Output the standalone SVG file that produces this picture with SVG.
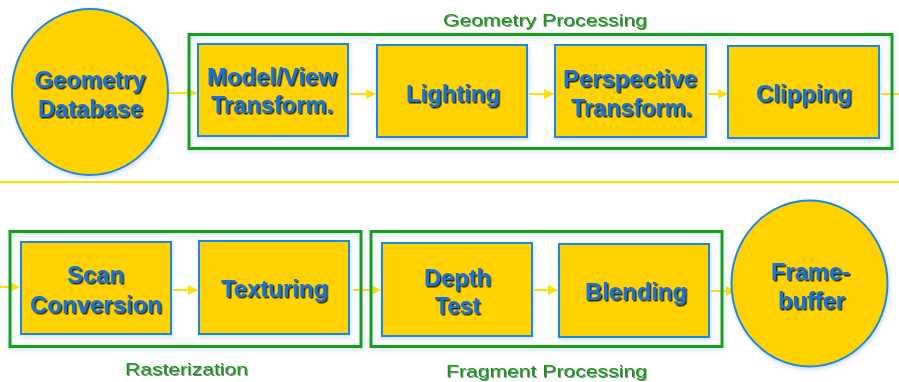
<svg xmlns="http://www.w3.org/2000/svg" width="899" height="382" viewBox="0 0 899 382">
<defs>
<style>
.node{fill:#FFD200;stroke:#1E88E5;stroke-width:2}
.grp{fill:none;stroke:#16A016;stroke-width:3}
.t{font-family:"Liberation Sans",Arial,sans-serif;font-weight:bold;font-size:23px;fill:#1672DE;text-anchor:middle}
.g{font-family:"Liberation Sans",Arial,sans-serif;font-size:17px;fill:#17961A;text-anchor:middle}
.c{stroke:#FFE000;stroke-width:2;fill:none}
</style>
<filter id="ts" x="-10%" y="-30%" width="120%" height="160%">
<feDropShadow dx="1.5" dy="1.5" stdDeviation="0.5" flood-color="#000" flood-opacity="0.8"/>
</filter>
<filter id="gs" x="-10%" y="-30%" width="120%" height="160%">
<feDropShadow dx="1" dy="1" stdDeviation="0.5" flood-color="#000" flood-opacity="0.5"/>
</filter>
<filter id="bs" x="-10%" y="-10%" width="120%" height="120%">
<feDropShadow dx="1" dy="2" stdDeviation="2" flood-color="#8FB0E0" flood-opacity="0.45"/>
</filter>
<marker id="ah" viewBox="0 0 10 10" refX="9" refY="5" markerWidth="5" markerHeight="5" orient="auto" markerUnits="strokeWidth">
<path d="M0,0 L10,5 L0,10 z" fill="#FFE000"/>
</marker>
</defs>
<rect width="899" height="382" fill="#fff"/>

<g id="connectors">
<line class="c" x1="168" y1="93" x2="196" y2="93" marker-end="url(#ah)"/>
<line class="c" x1="350" y1="94" x2="375" y2="94" marker-end="url(#ah)"/>
<line class="c" x1="529" y1="94" x2="553" y2="94" marker-end="url(#ah)"/>
<line class="c" x1="708" y1="94" x2="727" y2="94" marker-end="url(#ah)"/>
<line class="c" x1="881" y1="94" x2="899" y2="94"/>
<line class="c" x1="0" y1="182" x2="899" y2="182"/>
<line class="c" x1="0" y1="287" x2="19" y2="287" marker-end="url(#ah)"/>
<line class="c" x1="173" y1="290" x2="197" y2="290" marker-end="url(#ah)"/>
<line class="c" x1="353" y1="290" x2="380" y2="290" marker-end="url(#ah)"/>
<line class="c" x1="534" y1="290" x2="557" y2="290" marker-end="url(#ah)"/>
<line class="c" x1="711" y1="291" x2="735" y2="291" marker-end="url(#ah)"/>
</g>

<g id="geometry-processing">
<rect class="grp" x="189" y="34.5" width="703" height="114" filter="url(#bs)"/>
<text class="g" x="545" y="26" textLength="204" lengthAdjust="spacingAndGlyphs" filter="url(#gs)">Geometry Processing</text>
</g>
<g id="rasterization">
<rect class="grp" x="10" y="231.5" width="351" height="115" filter="url(#bs)"/>
<text class="g" x="186.5" y="375" textLength="123" lengthAdjust="spacingAndGlyphs" filter="url(#gs)">Rasterization</text>
</g>
<g id="fragment-processing">
<rect class="grp" x="371" y="231.5" width="351" height="115" filter="url(#bs)"/>
<text class="g" x="546.5" y="377" textLength="201" lengthAdjust="spacingAndGlyphs" filter="url(#gs)">Fragment Processing</text>
</g>

<g id="geometry-database">
<ellipse class="node" cx="90" cy="92" rx="78" ry="83" filter="url(#bs)"/>
<text class="t" filter="url(#ts)"><tspan x="90" y="88" textLength="111" lengthAdjust="spacingAndGlyphs">Geometry</tspan><tspan x="90.5" y="117" textLength="105" lengthAdjust="spacingAndGlyphs">Database</tspan></text>
</g>
<g id="model-view">
<rect class="node" x="198" y="44" width="150" height="92" filter="url(#bs)"/>
<text class="t" filter="url(#ts)"><tspan x="272" y="85" textLength="130" lengthAdjust="spacingAndGlyphs">Model/View</tspan><tspan x="272" y="113" textLength="122" lengthAdjust="spacingAndGlyphs">Transform.</tspan></text>
</g>
<g id="lighting">
<rect class="node" x="377" y="45" width="150" height="92" filter="url(#bs)"/>
<text class="t" x="453" y="102" textLength="94" lengthAdjust="spacingAndGlyphs" filter="url(#ts)">Lighting</text>
</g>
<g id="perspective">
<rect class="node" x="555" y="45" width="151" height="92" filter="url(#bs)"/>
<text class="t" filter="url(#ts)"><tspan x="630" y="87" textLength="134" lengthAdjust="spacingAndGlyphs">Perspective</tspan><tspan x="631.5" y="116" textLength="121" lengthAdjust="spacingAndGlyphs">Transform.</tspan></text>
</g>
<g id="clipping">
<rect class="node" x="728" y="46" width="151" height="92" filter="url(#bs)"/>
<text class="t" x="804" y="102" textLength="96" lengthAdjust="spacingAndGlyphs" filter="url(#ts)">Clipping</text>
</g>
<g id="scan-conversion">
<rect class="node" x="21" y="242" width="150" height="92" filter="url(#bs)"/>
<text class="t" filter="url(#ts)"><tspan x="95.5" y="283" textLength="57" lengthAdjust="spacingAndGlyphs">Scan</tspan><tspan x="96" y="313" textLength="132" lengthAdjust="spacingAndGlyphs">Conversion</tspan></text>
</g>
<g id="texturing">
<rect class="node" x="199" y="241" width="150" height="93" filter="url(#bs)"/>
<text class="t" x="274.5" y="297" textLength="107" lengthAdjust="spacingAndGlyphs" filter="url(#ts)">Texturing</text>
</g>
<g id="depth-test">
<rect class="node" x="382" y="243" width="150" height="93" filter="url(#bs)"/>
<text class="t" filter="url(#ts)"><tspan x="457.5" y="286" textLength="67" lengthAdjust="spacingAndGlyphs">Depth</tspan><tspan x="457.5" y="314" textLength="45" lengthAdjust="spacingAndGlyphs">Test</tspan></text>
</g>
<g id="blending">
<rect class="node" x="559" y="244" width="150" height="93" filter="url(#bs)"/>
<text class="t" x="636" y="300" textLength="102" lengthAdjust="spacingAndGlyphs" filter="url(#ts)">Blending</text>
</g>
<g id="framebuffer">
<ellipse class="node" cx="809.5" cy="283.5" rx="78" ry="83" filter="url(#bs)"/>
<text class="t" filter="url(#ts)"><tspan x="810.5" y="280" textLength="79" lengthAdjust="spacingAndGlyphs">Frame-</tspan><tspan x="811.5" y="309" textLength="67" lengthAdjust="spacingAndGlyphs">buffer</tspan></text>
</g>
</svg>
